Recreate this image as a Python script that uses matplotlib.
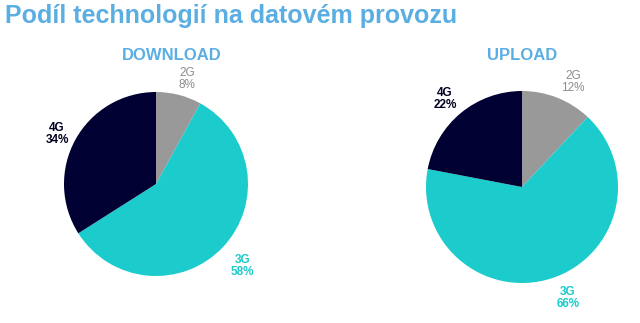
import matplotlib.pyplot as plt

techs = ['2G', '3G', '4G']
download_share = [8, 58, 34]
upload_share = [12, 66, 22]

colors = ['#999999', '#1ccbcb', '#000033']
label_colors = ['#8c8c8c', '#1ccbcb', '#000022']
label_weights = ['normal', 'bold', 'bold']
title_blue = '#5aaee2'

plt.rcParams['font.family'] = ['Liberation Sans', 'DejaVu Sans']

fig = plt.figure(figsize=(6.4, 3.23), dpi=100)
ax = fig.add_axes([0, 0, 1, 1])

def draw_pie(values, center, radius, heading, heading_x, nudges):
	labels = [t + '\n' + str(v) + '%' for t, v in zip(techs, values)]
	wedges, texts = ax.pie(values, labels=labels, colors=colors, startangle=90,
		counterclock=False, center=center, radius=radius, labeldistance=1.24,
		textprops={'fontsize': 8.5, 'ha': 'center', 'va': 'center', 'linespacing': 1.0},
		frame=True)
	for t, c, w, (dx, dy) in zip(texts, label_colors, label_weights, nudges):
		t.set_color(c)
		t.set_fontweight(w)
		x, y = t.get_position()
		t.set_position((x + dx, y + dy))
	ax.text(heading_x, 268, heading, color=title_blue, fontsize=12,
		fontweight='bold', ha='center', va='center')

draw_pie(download_share, (156, 139), 92, 'DOWNLOAD', 172,
	[(3, -5), (3, -4), (1, -5)])
draw_pie(upload_share, (522, 136), 96, 'UPLOAD', 522,
	[(7, -6), (9, 2), (-1, -4)])

# pie() resets the limits when frame=True, so set them again
ax.set_xlim(0, 640)
ax.set_ylim(0, 323)
ax.set_aspect('equal')
ax.axis('off')

fig.text(5 / 640, 1 - 16 / 323, 'Podíl technologií na datovém provozu', color=title_blue,
	fontsize=18, fontweight='bold', ha='left', va='center')

plt.savefig('out.png', dpi=100)
plt.close()
